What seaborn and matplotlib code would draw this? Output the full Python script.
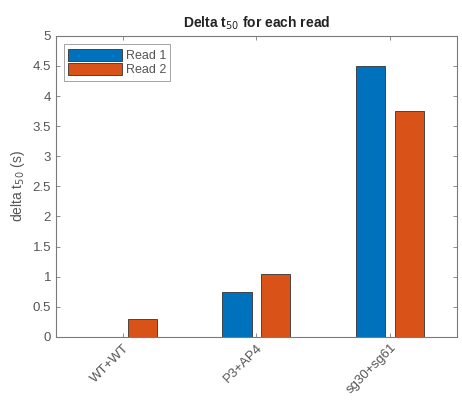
import matplotlib
matplotlib.use("Agg")
import matplotlib.pyplot as plt
import seaborn as sns
import pandas as pd

categories = ["WT+WT", "P3+AP4", "sg30+sg61"]
read1 = [0.0, 0.75, 4.5]
read2 = [0.3, 1.05, 3.75]
series_names = ["Read 1", "Read 2"]
yticks = [0, 0.5, 1, 1.5, 2, 2.5, 3, 3.5, 4, 4.5, 5]

df = pd.DataFrame({
    "group": categories * 2,
    "value": read1 + read2,
    "read": [series_names[0]] * 3 + [series_names[1]] * 3,
})

sns.set_style("white")
plt.rcParams["font.family"] = ["Liberation Sans", "DejaVu Sans"]
axis_grey = "#7a7a7a"

fig = plt.figure(figsize=(4.62, 4.03), dpi=100)
ax = fig.add_axes([0.121, 0.164, 0.868, 0.747])

sns.barplot(data=df, x="group", y="value", hue="read", order=categories,
            hue_order=series_names, palette=["#0072BD", "#D95319"],
            saturation=1, width=0.58, gap=0.25, edgecolor="#333333",
            linewidth=0.6, errorbar=None, ax=ax)

ax.set_xlim(-0.5, 2.5)
ax.set_ylim(0, 5)
ax.set_yticks(yticks)
ax.set_yticklabels([f"{t:g}" for t in yticks])
ax.set_xlabel("")
ax.set_ylabel("delta t$_{50}$ (s)", fontsize=10, color="#555555")
ax.set_title("Delta t$_{50}$ for each read", fontsize=10, fontweight="bold",
             color="#222222", pad=6)

for s in ax.spines.values():
    s.set_visible(True)
    s.set_color(axis_grey)
    s.set_linewidth(0.8)
ax.tick_params(direction="in", length=3, width=0.6, color=axis_grey,
               labelcolor="#555555", labelsize=9.5, top=True, right=True,
               bottom=True, left=True)
plt.setp(ax.get_xticklabels(), rotation=45, ha="right", rotation_mode="anchor")

leg = ax.legend(loc="upper left", bbox_to_anchor=(0.01, 0.985), fontsize=9,
                frameon=True, fancybox=False, handlelength=4.3,
                handleheight=1.1, borderpad=0.35, labelspacing=0.1,
                handletextpad=0.3, borderaxespad=0.3)
leg.get_frame().set_edgecolor(axis_grey)
leg.get_frame().set_linewidth(0.6)
for t in leg.get_texts():
    t.set_color("#555555")

fig.savefig("out.png", dpi=100, facecolor="white")
